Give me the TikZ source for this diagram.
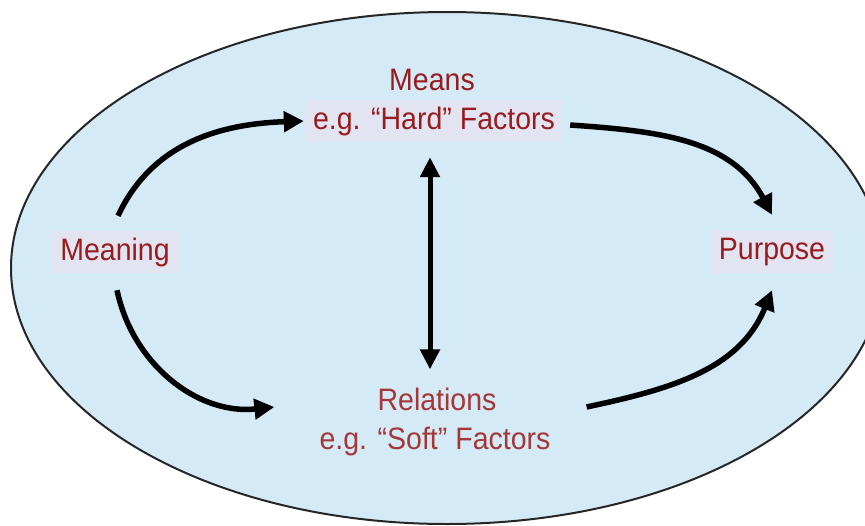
\documentclass[tikz,border=0pt]{standalone}
\usepackage{fontspec}
\setmainfont{Liberation Sans}
\usetikzlibrary{arrows.meta}
\definecolor{ellfill}{RGB}{213,234,247}
\definecolor{boxfill}{RGB}{226,228,242}
\definecolor{txtred}{RGB}{152,28,30}
\definecolor{txtred2}{RGB}{165,55,55}
\newcommand{\narrowtxt}[1]{\scalebox{0.92}[1]{#1}}
\tikzset{
  lbl/.style={font=\fontsize{31}{36}\selectfont, text=txtred, inner sep=0pt},
  boxlbl/.style={lbl, fill=boxfill, inner xsep=7pt, minimum height=42pt},
  flow/.style={line width=5.5pt, -{Triangle[length=20pt,width=20pt]}},
  twoway/.style={line width=5pt, {Triangle[length=20pt,width=19pt]}-{Triangle[length=20pt,width=19pt]}}
}
\begin{document}
\begin{tikzpicture}[x=1pt,y=-1pt]
\useasboundingbox (0,0) rectangle (865,525);
\clip (0,0) rectangle (865,525);
\draw[fill=ellfill, draw=black!85, line width=2pt] (447,268) ellipse [x radius=436, y radius=256];

\node[lbl] (means) at (432,80) {\narrowtxt{Means}};
\node[boxlbl] (hard) at (434,121) {\narrowtxt{e.g. “Hard” Factors}};
\node[boxlbl, inner xsep=9pt] (meaning) at (115,252) {\narrowtxt{Meaning}};
\node[boxlbl, inner xsep=8pt] (purpose) at (772,252) {\narrowtxt{Purpose}};
\node[lbl, text=txtred2] (relations) at (437,399) {\narrowtxt{Relations}};
\node[lbl, text=txtred2] (soft) at (435,441) {\narrowtxt{e.g. “Soft” Factors}};

\draw[flow] ([shift={(3,-15)}]meaning.north) to[out=65,in=182] ([shift={(-2,0)}]hard.west);
\draw[flow] ([shift={(8,4)}]hard.east) to[out=-4,in=118] ([shift={(0,-16)}]purpose.north);
\draw[flow] ([shift={(2,17)}]meaning.south) to[out=-78,in=186] ([shift={(-103,8)}]relations.west);
\draw[flow] ([shift={(90,8)}]relations.east) to[out=12,in=-112] ([shift={(0,17)}]purpose.south);
\draw[twoway] ([shift={(-4,15)}]hard.south) -- ([shift={(-7,-18)}]relations.north);
\end{tikzpicture}
\end{document}
